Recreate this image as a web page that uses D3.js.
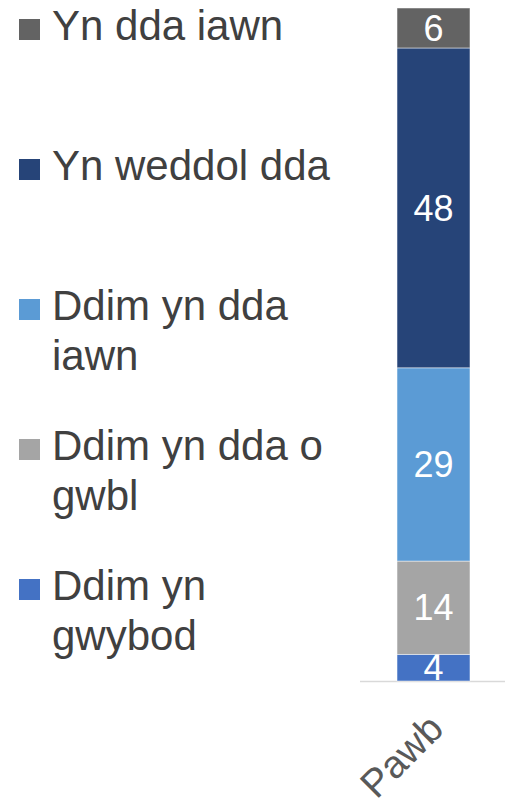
<!DOCTYPE html>
<html>
<head>
<meta charset="utf-8">
<script src="https://cdn.jsdelivr.net/npm/d3@7"></script>
<style>
  body { margin: 0; background: #fff; }
  svg { display: block; font-family: "Liberation Sans", Arial, sans-serif; }
</style>
</head>
<body>
<div id="chart"></div>
<script>
// data, bottom of the stack first
const categories = ["Pawb"];
const seriesNames = ["Ddim yn gwybod", "Ddim yn dda o gwbl", "Ddim yn dda iawn", "Yn weddol dda", "Yn dda iawn"];
const seriesValues = [4, 14, 29, 48, 6];
const seriesColors = ["#4472c4", "#a5a5a5", "#5b9bd5", "#264478", "#636363"];

const width = 505, height = 808;

const svg = d3.select("#chart")
    .append("svg")
    .attr("width", width)
    .attr("height", height);

// one row table for d3.stack
const row = {cat: categories[0]};
seriesNames.forEach((s, i) => row[s] = seriesValues[i]);
const stacked = d3.stack().keys(seriesNames)([row]);

const x = d3.scaleBand()
    .domain(categories)
    .range([362, 505])
    .paddingInner(0)
    .paddingOuter(0.48);

const y = d3.scaleLinear()
    .domain([0, d3.sum(seriesValues)])
    .range([681, 8]);

// axis line
svg.append("line")
    .attr("x1", 360)
    .attr("x2", 505)
    .attr("y1", y(0) + 0.5)
    .attr("y2", y(0) + 0.5)
    .attr("stroke", "#d9d9d9")
    .attr("stroke-width", 1.5);

// the bar segments
const layers = svg.selectAll("g.layer")
    .data(stacked)
    .enter()
    .append("g")
    .attr("class", "layer");

layers.append("rect")
    .attr("x", x(categories[0]))
    .attr("width", x.bandwidth())
    .attr("y", d => y(d[0][1]))
    .attr("height", d => y(d[0][0]) - y(d[0][1]))
    .attr("fill", (d, i) => seriesColors[i])
    .attr("stroke", "rgba(255,255,255,0.6)")
    .attr("stroke-width", 0.8);

// value labels
layers.append("text")
    .attr("x", x(categories[0]) + x.bandwidth() / 2)
    .attr("y", d => (y(d[0][0]) + y(d[0][1])) / 2)
    .attr("dy", "0.35em")
    .attr("text-anchor", "middle")
    .attr("fill", "#fff")
    .style("font-size", "36px")
    .text(d => d[0][1] - d[0][0]);

// category label, rotated
svg.append("text")
    .attr("transform", `translate(${x(categories[0]) + x.bandwidth() / 2 + 12},731) rotate(-45)`)
    .attr("text-anchor", "end")
    .attr("fill", "#595959")
    .style("font-size", "39px")
    .text(categories[0]);

// legend, top series first
const legend = svg.append("g").attr("class", "legend");
const legendItems = seriesNames.map((s, i) => ({name: s, color: seriesColors[i]})).reverse();

function wrapWords(text, maxWidth, probe) {
    const words = text.split(" ");
    const lines = [];
    let line = words[0];
    for (let k = 1; k < words.length; k++) {
        probe.text(line + " " + words[k]);
        if (probe.node().getComputedTextLength() > maxWidth) {
            lines.push(line);
            line = words[k];
        } else {
            line = line + " " + words[k];
        }
    }
    lines.push(line);
    return lines;
}

const probe = svg.append("text").style("font-size", "42px").attr("visibility", "hidden");

legendItems.forEach((item, i) => {
    const base = 40 + i * 140;
    const g = legend.append("g");
    g.append("rect")
        .attr("x", 19)
        .attr("y", base - 21)
        .attr("width", 21)
        .attr("height", 21)
        .attr("fill", item.color);
    const t = g.append("text")
        .attr("x", 52)
        .attr("y", base)
        .attr("fill", "#404040")
        .style("font-size", "42px");
    wrapWords(item.name, 290, probe).forEach((ln, j) => {
        t.append("tspan")
            .attr("x", 52)
            .attr("y", base + j * 50)
            .text(ln);
    });
});
probe.remove();
</script>
</body>
</html>
